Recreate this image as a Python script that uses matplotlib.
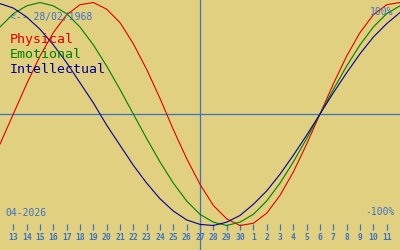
import matplotlib
matplotlib.use("Agg")
import matplotlib.pyplot as plt

# Days shown: 12 Apr .. 12 May 2026 (edges), ticks for 13 Apr .. 11 May
day_labels = ["12", "13", "14", "15", "16", "17", "18", "19", "20", "21", "22", "23",
              "24", "25", "26", "27", "28", "29", "30", "1", "2", "3", "4", "5", "6",
              "7", "8", "9", "10", "11", "12"]
physical = [-0.27, 0, 0.27, 0.52, 0.73, 0.89, 0.98, 1.00, 0.94, 0.82, 0.63, 0.40, 0.14,
            -0.14, -0.40, -0.63, -0.82, -0.94, -1.00, -0.98, -0.89, -0.73, -0.52, -0.27,
            0, 0.27, 0.52, 0.73, 0.89, 0.98, 1.00]
emotional = [0.78, 0.90, 0.97, 1.00, 0.97, 0.90, 0.78, 0.62, 0.43, 0.22, 0, -0.22, -0.43,
             -0.62, -0.78, -0.90, -0.97, -1.00, -0.97, -0.90, -0.78, -0.62, -0.43, -0.22,
             0, 0.22, 0.43, 0.62, 0.78, 0.90, 0.97]
intellectual = [0.99, 0.95, 0.87, 0.76, 0.62, 0.46, 0.28, 0.10, -0.10, -0.28, -0.46, -0.62,
                -0.76, -0.87, -0.95, -0.99, -1.00, -0.97, -0.91, -0.81, -0.69, -0.54, -0.37,
                -0.19, 0, 0.19, 0.37, 0.54, 0.69, 0.81, 0.91]
today_label = "27"
birth_text = "<-- 28/02/1968"
month_text = "04-2026"
series_names = ["Physical", "Emotional", "Intellectual"]

bg = "#e0d080"
axis_blue = "#3a72c8"
colors = ["#e00000", "#008000", "#000099"]

fig = plt.figure(figsize=(4, 2.5), dpi=100, facecolor=bg)
ax = fig.add_axes([0, 0, 1, 1])
ax.set_facecolor(bg)

x = list(range(len(day_labels)))
for vals, c in zip([physical, emotional, intellectual], colors):
    ax.plot(x, vals, color=c, lw=0.8, zorder=3)

ax.axhline(0, color=axis_blue, lw=0.9, zorder=2)
ax.axvline(day_labels.index(today_label), color=axis_blue, lw=0.9, zorder=2)

ax.set_xlim(0, 30)
ax.set_ylim(-136 / 111.5, 114 / 111.5)

for s in ax.spines.values():
    s.set_visible(False)
ax.spines["bottom"].set_position(("axes", 0.08))
ax.set_xticks(x[1:-1])
ax.set_xticklabels(day_labels[1:-1], family="DejaVu Sans Mono", fontsize=5.8,
                   color=axis_blue, fontweight="bold")
ax.tick_params(axis="x", direction="in", length=4.5, width=0.9, color=axis_blue, pad=2.5)
ax.set_yticks([])

mono = "DejaVu Sans Mono"
W, H = 400.0, 250.0
fig.text(10 / W, 1 - 16.5 / H, birth_text, family=mono, fontsize=7, color=axis_blue, va="center", ha="left")
fig.text(393 / W, 1 - 12 / H, "100%", family=mono, fontsize=7, color=axis_blue, va="center", ha="right")
fig.text(395 / W, 1 - 212 / H, "-100%", family=mono, fontsize=7, color=axis_blue, va="center", ha="right")
fig.text(5 / W, 1 - 213 / H, month_text, family=mono, fontsize=7, color=axis_blue, va="center", ha="left")
for i, (name, c) in enumerate(zip(series_names, colors)):
    fig.text(10 / W, 1 - (43 + 15 * i) / H, name, family=mono, fontsize=9.5, color=c,
             va="baseline", ha="left")

fig.savefig("out.png", dpi=100, facecolor=bg)
